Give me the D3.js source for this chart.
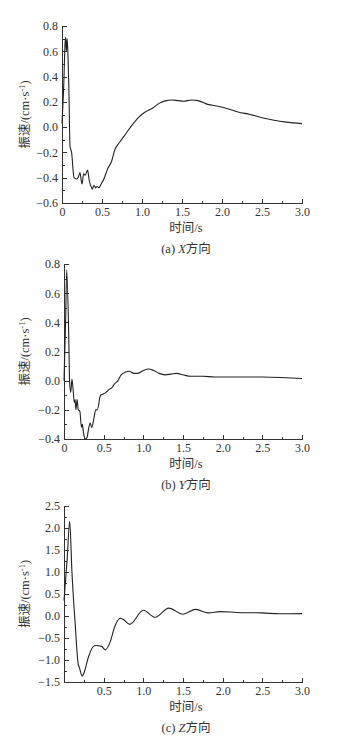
<!DOCTYPE html>
<html>
<meta charset="utf-8">
<style>

body {
  margin: 0;
  background: #fff;
}

svg {
  font-family: "Liberation Serif", "Noto Sans CJK SC", serif;
  font-size: 11.5px;
  fill: #333;
}

.axis path,
.axis line {
  fill: none;
  stroke: #333;
  shape-rendering: crispEdges;
}

.axis text {
  fill: #333;
  font-family: "Liberation Serif", serif;
  font-size: 12px;
}

.curve {
  fill: none;
  stroke: #222;
  stroke-width: 1.1px;
}

</style>
<body>
<script src="https://d3js.org/d3.v7.min.js"></script>
<script>

// time (s) and velocity (cm/s)
var timeX = [0, 0.02, 0.04, 0.046, 0.055, 0.065, 0.08, 0.087, 0.1, 0.12, 0.15, 0.18, 0.2, 0.225, 0.24, 0.25,
    0.27, 0.29, 0.32, 0.34, 0.37, 0.38, 0.4, 0.42, 0.44, 0.46, 0.49, 0.53, 0.57, 0.62, 0.66, 0.72, 0.8,
    0.88, 0.96, 1.04, 1.13, 1.22, 1.3, 1.37, 1.45, 1.52, 1.62, 1.7, 1.82, 1.95, 2.05, 2.2, 2.35, 2.5,
    2.65, 2.8, 3.0];
var valueX = [0.03, 0.3, 0.68, 0.71, 0.6, 0.7, 0.45, 0.27, -0.15, -0.2, -0.4, -0.41, -0.4, -0.36, -0.42, -0.45,
    -0.37, -0.38, -0.34, -0.42, -0.48, -0.49, -0.46, -0.48, -0.47, -0.48, -0.45, -0.4, -0.33, -0.27, -0.18, -0.12, -0.05,
    0.02, 0.08, 0.12, 0.15, 0.19, 0.21, 0.215, 0.21, 0.205, 0.215, 0.21, 0.18, 0.165, 0.15, 0.12, 0.1, 0.075,
    0.055, 0.04, 0.028];

var timeY = [0, 0.02, 0.034, 0.06, 0.07, 0.085, 0.1, 0.11, 0.13, 0.14, 0.15, 0.165, 0.18, 0.2, 0.22, 0.23,
    0.25, 0.27, 0.29, 0.31, 0.33, 0.35, 0.38, 0.4, 0.42, 0.46, 0.5, 0.53, 0.57, 0.6, 0.64, 0.68, 0.72,
    0.78, 0.82, 0.88, 0.93, 1.0, 1.07, 1.13, 1.2, 1.27, 1.35, 1.42, 1.5, 1.6, 1.75, 1.9, 2.2, 2.5, 2.8, 3.0];
var valueY = [0, 0.4, 0.76, 0.3, 0.0, -0.08, 0.01, -0.03, -0.15, -0.13, -0.2, -0.13, -0.2, -0.21, -0.32, -0.3,
    -0.37, -0.4, -0.39, -0.33, -0.29, -0.32, -0.25, -0.2, -0.2, -0.1, -0.09, -0.08, -0.06, -0.05, -0.02, 0.0, 0.04,
    0.06, 0.065, 0.05, 0.05, 0.07, 0.08, 0.07, 0.05, 0.04, 0.045, 0.05, 0.04, 0.03, 0.03, 0.025, 0.025, 0.025, 0.02, 0.015];

var timeZ = [0, 0.04, 0.072, 0.1, 0.14, 0.18, 0.19, 0.23, 0.25, 0.31, 0.37, 0.4, 0.475, 0.52, 0.58, 0.64,
    0.71, 0.75, 0.83, 1.0, 1.15, 1.32, 1.5, 1.66, 1.82, 1.97, 2.18, 2.5, 2.72, 3.0];
var valueZ = [0.35, 1.3, 2.15, 1.0, -0.15, -1.1, -1.15, -1.37, -1.3, -0.92, -0.69, -0.67, -0.69, -0.77, -0.6, -0.24,
    -0.05, -0.08, -0.19, 0.13, -0.03, 0.18, 0.04, 0.15, 0.07, 0.1, 0.08, 0.07, 0.05, 0.055];

var timeTicks = [0, 0.5, 1.0, 1.5, 2.0, 2.5, 3.0];

var panels = [
  {t: timeX, v: valueX, left: 62, right: 302, top: 26, bottom: 203, domain: [-0.6, 0.8], step: 0.2,
   zeroLabel: true, caption: "X", tag: "(a) "},
  {t: timeY, v: valueY, left: 64, right: 302, top: 264, bottom: 439, domain: [-0.4, 0.8], step: 0.2,
   zeroLabel: true, caption: "Y", tag: "(b) "},
  {t: timeZ, v: valueZ, left: 64, right: 302, top: 506, bottom: 682, domain: [-1.5, 2.5], step: 0.5,
   zeroLabel: false, caption: "Z", tag: "(c) "}
];

var svg = d3.select("body").append("svg")
    .attr("width", 356)
    .attr("height", 741);

panels.forEach(function(p) {
  var x = d3.scaleLinear().domain([0, 3]).range([p.left, p.right]);
  var y = d3.scaleLinear().domain(p.domain).range([p.bottom, p.top]);

  var yTicks = d3.range(p.domain[0], p.domain[1] + p.step / 2, p.step).map(function(d) { return +d.toFixed(2); });
  var yMinor = d3.range(p.domain[0], p.domain[1] + p.step / 4, p.step / 2).map(function(d) { return +d.toFixed(3); });
  var xMinor = d3.range(0, 3.01, 0.25);

  // minor ticks first
  svg.append("g")
      .attr("class", "axis")
      .attr("transform", "translate(0," + p.bottom + ")")
      .call(d3.axisTop(x).tickValues(xMinor).tickSize(2.5).tickFormat(""))
      .select(".domain").remove();

  svg.append("g")
      .attr("class", "axis")
      .attr("transform", "translate(" + p.left + ",0)")
      .call(d3.axisRight(y).tickValues(yMinor).tickSize(2.5).tickFormat(""))
      .select(".domain").remove();

  var xAxis = svg.append("g")
      .attr("class", "axis")
      .attr("transform", "translate(0," + p.bottom + ")")
      .call(d3.axisTop(x).tickValues(timeTicks).tickSizeInner(4.5).tickSizeOuter(0)
        .tickFormat(function(d) { return d === 0 ? (p.zeroLabel ? "0" : "") : d.toFixed(1); }));
  xAxis.selectAll("text").attr("y", 4).attr("dy", "0.71em");

  var yAxis = svg.append("g")
      .attr("class", "axis")
      .attr("transform", "translate(" + p.left + ",0)")
      .call(d3.axisRight(y).tickValues(yTicks).tickSizeInner(4.5).tickSizeOuter(0)
        .tickFormat(d3.format(".1f")));
  yAxis.selectAll("text").attr("x", -4).attr("text-anchor", "end");

  var line = d3.line()
      .x(function(d, i) { return x(p.t[i]); })
      .y(function(d) { return y(d); })
      .curve(d3.curveMonotoneX);

  svg.append("path")
      .datum(p.v)
      .attr("class", "curve")
      .attr("d", line);

  var mid = (p.top + p.bottom) / 2;
  var ylab = svg.append("text")
      .attr("transform", "translate(29," + mid + ") rotate(-90)")
      .attr("text-anchor", "middle")
      .attr("font-size", 12.5);
  ylab.append("tspan").text("振速/(cm·s");
  ylab.append("tspan").attr("dy", -4).attr("font-size", 8.5).text("-1");
  ylab.append("tspan").attr("dy", 4).text(")");

  svg.append("text")
      .attr("x", 186)
      .attr("y", p.bottom + 29)
      .attr("text-anchor", "middle")
      .attr("font-size", 12.5)
      .text("时间/s");

  var cap = svg.append("text")
      .attr("x", 186)
      .attr("y", p.bottom + 50)
      .attr("text-anchor", "middle")
      .attr("font-size", 12.5);
  cap.append("tspan").text(p.tag);
  cap.append("tspan").attr("font-style", "italic").text(p.caption);
  cap.append("tspan").text("方向");
});

</script>
</body>
</html>
